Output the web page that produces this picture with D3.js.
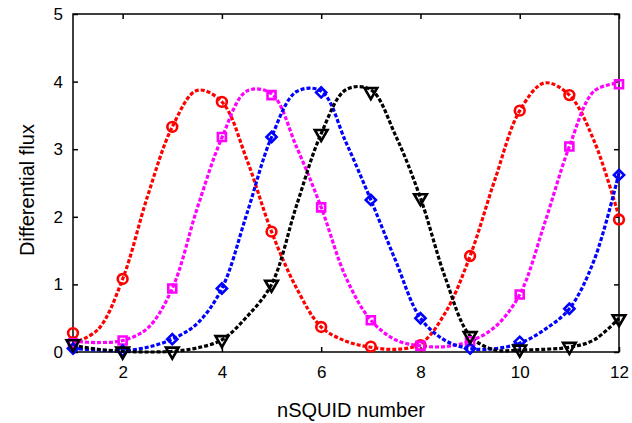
<!DOCTYPE html>
<html>
<head>
<meta charset="utf-8">
<script src="https://cdn.jsdelivr.net/npm/d3@7"></script>
<style>
  body { margin: 0; background: #fff; }
  text { font-family: "Liberation Sans", Arial, sans-serif; fill: #000; }
</style>
</head>
<body>
<div id="chart"></div>
<script>
'use strict';

// measured points at each nSQUID
const squids = [1, 2, 3, 4, 5, 6, 7, 8, 9, 10, 11, 12];
const redPts     = [0.28, 1.08, 3.33, 3.70, 1.78, 0.37, 0.08, 0.10, 1.42, 3.57, 3.80, 1.96];
const magentaPts = [0.13, 0.17, 0.94, 3.18, 3.80, 2.14, 0.47, 0.09, 0.16, 0.85, 3.04, 3.96];
const bluePts    = [0.05, 0.02, 0.19, 0.94, 3.18, 3.84, 2.25, 0.50, 0.05, 0.15, 0.64, 2.62];
const blackPts   = [0.12, 0.01, 0.01, 0.18, 1.00, 3.23, 3.85, 2.28, 0.24, 0.04, 0.08, 0.49];

const fitX = [1, 1.5, 2, 2.5, 3, 3.5, 4, 4.5, 5, 5.5, 6, 6.5, 7, 7.5, 8, 8.5, 9, 9.5, 10, 10.5, 11, 11.5, 12];
const redFit     = [0.13, 0.33, 1.08, 2.30, 3.33, 3.87, 3.70, 2.85, 1.78, 0.95, 0.37, 0.16, 0.07, 0.04, 0.12, 0.58, 1.42, 2.55, 3.57, 3.98, 3.80, 3.12, 2.00];
const magentaFit = [0.16, 0.14, 0.17, 0.35, 0.94, 2.12, 3.17, 3.86, 3.82, 3.04, 2.14, 1.10, 0.47, 0.18, 0.09, 0.08, 0.16, 0.37, 0.85, 1.90, 3.04, 3.86, 3.98];
const blueFit    = [0.05, 0.03, 0.02, 0.07, 0.19, 0.42, 0.94, 2.04, 3.18, 3.85, 3.86, 3.10, 2.25, 1.35, 0.50, 0.17, 0.05, 0.05, 0.13, 0.33, 0.64, 1.36, 2.65];
const blackFit   = [0.10, 0.04, 0.01, 0.00, 0.01, 0.06, 0.18, 0.52, 1.00, 2.16, 3.23, 3.88, 3.88, 3.20, 2.28, 1.10, 0.24, 0.03, 0.03, 0.04, 0.07, 0.18, 0.50];

const xTicks = [2, 4, 6, 8, 10, 12];
const yTicks = [0, 1, 2, 3, 4, 5];

const series = [
  { color: '#ff0000', shape: 'circle',   pts: redPts,     fit: redFit },
  { color: '#ff00ff', shape: 'square',   pts: magentaPts, fit: magentaFit },
  { color: '#0000ff', shape: 'diamond',  pts: bluePts,    fit: blueFit },
  { color: '#000000', shape: 'triangle', pts: blackPts,   fit: blackFit }
];

const width = 632, height = 423;
const margin = {top: 14, right: 13, bottom: 71, left: 73};
const w = width - margin.left - margin.right;
const h = height - margin.top - margin.bottom;

const svg = d3.select('#chart').append('svg')
  .attr('width', width).attr('height', height);
const g = svg.append('g').attr('transform', `translate(${margin.left},${margin.top})`);

const x = d3.scaleLinear().domain([1, 12]).range([0, w]);
const y = d3.scaleLinear().domain([0, 5]).range([h, 0]);

// frame
g.append('rect').attr('width', w).attr('height', h)
  .attr('fill', 'none').attr('stroke', '#000').attr('stroke-width', 1.5);

// ticks pointing inwards, on all four sides
function styleAxis(sel) {
  sel.select('.domain').remove();
  sel.selectAll('line').attr('stroke', '#000').attr('stroke-width', 1.5);
  sel.selectAll('text').style('font-size', '17px');
}
g.append('g').attr('transform', `translate(0,${h})`)
  .call(d3.axisBottom(x).tickValues(xTicks).tickSizeInner(-5).tickSizeOuter(0).tickPadding(14).tickFormat(d3.format('d')))
  .call(styleAxis);
g.append('g')
  .call(d3.axisTop(x).tickValues(xTicks).tickSizeInner(-5).tickSizeOuter(0).tickFormat(''))
  .call(styleAxis);
g.append('g')
  .call(d3.axisLeft(y).tickValues(yTicks).tickSizeInner(-5).tickSizeOuter(0).tickPadding(10).tickFormat(d3.format('d')))
  .call(styleAxis);
g.append('g').attr('transform', `translate(${w},0)`)
  .call(d3.axisRight(y).tickValues(yTicks).tickSizeInner(-5).tickSizeOuter(0).tickFormat(''))
  .call(styleAxis);

// axis titles
svg.append('text')
  .attr('x', margin.left + w / 2 + 5).attr('y', 417)
  .attr('text-anchor', 'middle').style('font-size', '20px')
  .text('nSQUID number');
svg.append('text')
  .attr('transform', 'translate(34,190) rotate(-90)')
  .attr('text-anchor', 'middle').style('font-size', '20px')
  .text('Differential flux');

// dotted fit curves
const line = d3.line()
  .x(d => x(d[0]))
  .y(d => y(d[1]))
  .curve(d3.curveCatmullRom.alpha(0.5));

series.forEach(s => {
  const data = fitX.map((v, i) => [v, s.fit[i]]);
  g.append('path')
    .attr('d', line(data))
    .attr('fill', 'none')
    .attr('stroke', s.color)
    .attr('stroke-width', 3.2)
    .attr('stroke-dasharray', '4,2');
});

// markers
const symbols = {
  circle: d3.symbol().type(d3.symbolCircle).size(75),
  square: d3.symbol().type(d3.symbolSquare).size(64),
  diamond: d3.symbol().type(d3.symbolSquare).size(52),
  triangle: d3.symbol().type(d3.symbolTriangle).size(70)
};
const turn = { circle: '', square: '', diamond: ' rotate(45)', triangle: ' rotate(180)' };

series.forEach(s => {
  g.selectAll(null)
    .data(squids.map((v, i) => [v, s.pts[i]]))
    .join('path')
    .attr('d', symbols[s.shape]())
    .attr('transform', d => `translate(${x(d[0])},${y(d[1])})` + turn[s.shape])
    .attr('fill', 'none')
    .attr('stroke', s.color)
    .attr('stroke-width', 2.6);
});
</script>
</body>
</html>
